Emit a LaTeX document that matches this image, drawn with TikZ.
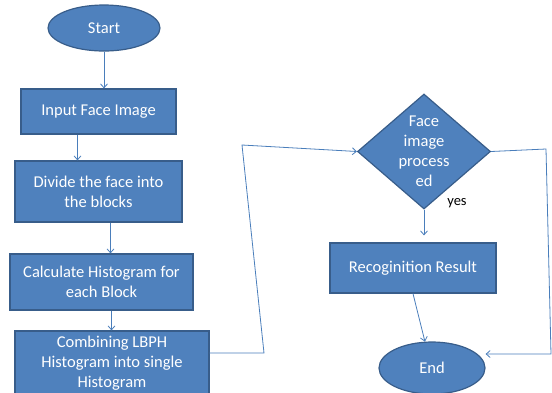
\documentclass[tikz,border=0pt]{standalone}
\usepackage{fontspec}
\setmainfont{Carlito}
\usetikzlibrary{shapes.geometric,arrows.meta}

\definecolor{boxfill}{RGB}{79,129,189}
\definecolor{boxline}{RGB}{56,93,138}
\definecolor{linkline}{RGB}{74,126,187}

\tikzstyle{proc} = [rectangle, fill=boxfill, draw=boxline, line width=1.2pt, inner sep=0pt, text=white, align=center, font=\fontsize{16.5}{20}\selectfont]
\tikzstyle{term} = [ellipse, fill=boxfill, draw=boxline, line width=1.2pt, inner sep=0pt, text=white, font=\fontsize{16.5}{20}\selectfont]
\tikzstyle{decide} = [diamond, fill=boxfill, draw=boxline, line width=1.2pt, inner sep=0pt]
\tikzstyle{dtext} = [text=white, align=center, font=\fontsize{16.5}{20}\selectfont]
\tikzstyle{link} = [draw=linkline, line width=0.8pt, -{Straight Barb[length=4pt,width=7pt]}]

\begin{document}
\begin{tikzpicture}[x=1pt, y=-1pt]
    \useasboundingbox (0,0) rectangle (552,392);
    \node[term, minimum width=112pt, minimum height=46pt] (S) at (104, 28) {Start};
    \node[proc, minimum width=155pt, minimum height=45pt] (I) at (98.5, 111.5) {Input Face Image};
    \node[proc, minimum width=167pt, minimum height=61pt] (Dv) at (98.5, 191.5) {Divide the face into\\the blocks};
    \node[proc, minimum width=183pt, minimum height=56pt] (Ca) at (101.5, 282) {Calculate Histogram for\\each Block};
    \node[proc, minimum width=194pt, minimum height=64pt] (Co) at (112, 363) {Combining LBPH\\Histogram into single\\Histogram};
    \node[decide, minimum width=133pt, minimum height=115pt, label={[dtext]center:{Face\\image\\process\\ed}}] (D) at (424, 151.5) {};
    \node[font=\fontsize{14.5}{16}\selectfont] (Y) at (457, 203) {yes};
    \node[proc, minimum width=166pt, minimum height=50pt] (R) at (413, 268) {Recoginition Result};
    \node[term, minimum width=106pt, minimum height=52pt] (E) at (432, 368) {End};
    \coordinate (b1) at (264, 353);
    \coordinate (b2) at (242, 145);
    \coordinate (c1) at (546, 149);
    \coordinate (c2) at (551, 354);
    \draw[link] (S.south) -- (S.south |- I.north);
    \draw[link] ([xshift=-21pt]I.south) -- ([xshift=-21pt]I.south |- Dv.north);
    \draw[link] ([xshift=12pt]Dv.south) -- ([xshift=12pt]Dv.south |- Ca.north);
    \draw[link] ([xshift=10pt]Ca.south) -- ([xshift=10pt]Ca.south |- Co.north);
    \draw[link] (Co.east |- b1) -- (b1) -- (b2) -- (D.west);
    \draw[link] (D.south) -- ([yshift=7pt]R.north -| D.south);
    \draw[link] (R.south) -- (E.105);
    \draw[link] (D.east) -- (c1) -- (c2) -- (E.east |- c2);
  \end{tikzpicture}
\end{document}
